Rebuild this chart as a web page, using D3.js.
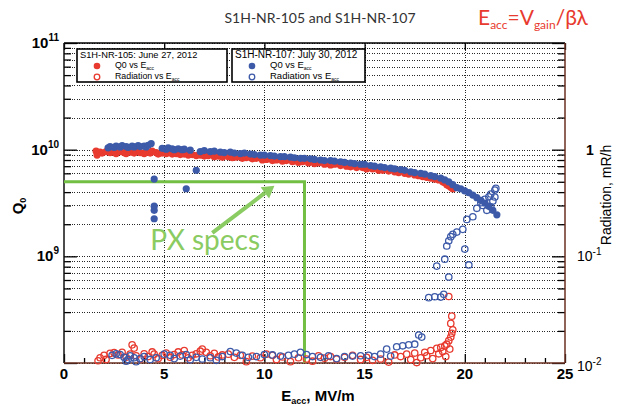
<!DOCTYPE html>
<html><head><meta charset="utf-8">
<script src="https://cdn.jsdelivr.net/npm/d3@7"></script>
<style>
body{margin:0;background:#fff;}
svg{display:block;}
.grid line{stroke:#000;stroke-dasharray:1,1.5;stroke-width:1;shape-rendering:crispEdges;opacity:0.85;}
.grid path{display:none;}
.ax path{display:none;}
.ax line{stroke:#000;stroke-width:1.3;}
</style></head><body>
<svg id="c" width="617" height="406"></svg>
<script>
// ---------- data ----------
// S1H-NR-105 (June 27, 2012): Q0 vs Eacc  [Eacc MV/m, Q0 in units of 1e9]
const q105 = [[1.6,9.7],[1.65,8.9],[1.8,9.5],[1.9,9.3],[2.1,9.6],[2.3,9.4],[2.5,9.5],[2.6,9.2],[2.8,9.6],[3.0,9.4],[3.1,9.2],[3.3,9.5],[3.5,9.3],[3.6,9.6],[3.8,9.4],[4.0,9.2],[4.1,9.5],[4.3,9.3],[4.4,9.7],[4.6,9.4],[4.7,9.1],[4.9,9.3],[5.1,9.2],[5.2,9.4],[5.4,9.1],[5.6,9.2],[5.8,9.0],[6.0,9.1],[6.2,8.9],[6.4,9.0],[6.6,8.8],[6.8,8.9],[7.0,8.7],[7.2,8.8],[7.5,8.6],[7.7,8.7],[7.9,8.5],[8.2,8.6],[8.4,8.4],[8.6,8.5],[8.9,8.3],[9.1,8.4],[9.4,8.2],[9.6,8.3],[9.9,8.0],[10.1,8.1],[10.4,7.9],[10.6,8.0],[10.9,7.8],[11.1,7.9],[11.4,7.7],[11.7,7.6],[11.9,7.7],[12.2,7.5],[12.5,7.4],[12.7,7.5],[13.0,7.3],[13.3,7.2],[13.5,7.3],[13.8,7.1],[14.1,7.0],[14.3,6.9],[14.6,6.8],[14.9,6.8],[15.1,6.6],[15.4,6.6],[15.7,6.4],[15.9,6.4],[16.2,6.3],[16.5,6.2],[16.7,6.1],[17.0,6.0],[17.2,5.9],[17.5,5.8],[17.7,5.7],[17.9,5.6],[18.1,5.5],[18.3,5.4],[18.5,5.3],[18.7,5.2],[18.9,5.0],[19.0,4.9],[19.1,4.7],[19.2,4.6],[19.3,4.45],[19.4,4.3]];
// S1H-NR-105: Radiation vs Eacc [Eacc, mR/h]
const rad105 = [[1.7,0.0105],[1.8,0.0112],[2.0,0.0118],[2.1,0.0108],[2.3,0.0123],[2.5,0.0125],[2.7,0.0119],[2.9,0.0126],[3.1,0.0113],[3.3,0.0121],[3.4,0.0148],[3.5,0.0138],[3.6,0.0117],[3.8,0.0109],[4.0,0.0122],[4.2,0.0115],[4.4,0.0127],[4.5,0.0121],[4.7,0.0110],[4.9,0.0118],[5.1,0.0124],[5.3,0.0113],[5.5,0.0120],[5.7,0.0127],[5.9,0.0119],[6.0,0.0131],[6.2,0.0112],[6.4,0.0118],[6.6,0.0122],[6.8,0.0129],[6.9,0.0135],[7.1,0.0126],[7.3,0.0117],[7.5,0.0123],[7.7,0.0114],[7.9,0.0119],[8.2,0.0121],[8.5,0.0113],[8.8,0.0118],[9.1,0.0103],[9.4,0.0116],[9.8,0.0112],[10.1,0.0121],[10.4,0.0118],[10.6,0.0108],[10.9,0.0114],[11.3,0.0103],[11.7,0.0112],[12.1,0.0109],[12.4,0.0104],[12.7,0.0117],[13.0,0.0111],[13.3,0.0115],[13.6,0.0109],[14.0,0.0113],[14.4,0.0118],[14.8,0.0108],[15.1,0.0113],[15.4,0.0106],[15.8,0.0109],[16.2,0.0102],[16.5,0.0119],[16.8,0.0115],[17.1,0.0121],[17.3,0.0108],[17.5,0.0124],[17.6,0.0101],[17.8,0.0112],[18.0,0.0126],[18.1,0.0117],[18.3,0.0131],[18.4,0.0110],[18.6,0.0137],[18.7,0.0122],[18.8,0.0140],[18.9,0.0128],[19.0,0.0145],[19.05,0.0115],[19.1,0.0150],[19.2,0.0162],[19.25,0.0135],[19.3,0.0175],[19.35,0.0190],[19.4,0.0205],[19.3,0.0235],[19.35,0.0275],[19.2,0.042]];
// S1H-NR-107 (July 30, 2012): Q0 vs Eacc [Eacc, Q0 in units of 1e9]
const q107 = [[2.2,10.4],[2.3,10.7],[2.5,10.5],[2.6,10.8],[2.8,10.6],[2.9,10.9],[3.1,10.7],[3.2,10.5],[3.4,10.8],[3.5,10.6],[3.7,10.9],[3.8,10.7],[4.0,10.8],[4.1,10.6],[4.2,11.0],[4.35,11.4],[4.5,5.3],[4.5,2.95],[4.5,2.7],[4.5,2.25],[4.9,10.3],[5.1,10.1],[5.2,10.4],[5.4,10.2],[5.5,10.0],[5.7,10.2],[5.9,10.0],[6.0,10.1],[6.1,4.3],[6.3,9.9],[6.6,6.4],[6.8,9.6],[7.0,9.8],[7.3,9.6],[7.5,9.7],[7.8,9.5],[8.0,9.4],[8.3,9.5],[8.5,9.3],[8.8,9.2],[9.0,9.3],[9.3,9.1],[9.5,9.0],[9.8,8.9],[10.0,8.9],[10.3,8.8],[10.5,8.7],[10.8,8.6],[11.0,8.6],[11.3,8.5],[11.5,8.4],[11.8,8.3],[12.0,8.3],[12.3,8.2],[12.5,8.1],[12.8,8.0],[13.0,7.9],[13.3,7.9],[13.5,7.8],[13.8,7.7],[14.0,7.6],[14.3,7.5],[14.5,7.4],[14.8,7.3],[15.0,7.3],[15.3,7.1],[15.5,7.0],[15.8,6.9],[16.0,6.8],[16.3,6.7],[16.5,6.6],[16.8,6.5],[17.0,6.4],[17.3,6.2],[17.5,6.1],[17.8,6.0],[18.0,5.9],[18.3,5.7],[18.5,5.6],[18.8,5.4],[19.0,5.2],[19.2,5.0],[19.4,4.7],[19.6,4.4],[19.8,4.3],[20.0,4.1],[20.2,3.95],[20.4,3.75],[20.6,3.55],[20.8,3.35],[21.0,3.15],[21.2,2.95],[21.4,2.7],[21.6,2.45]];
// S1H-NR-107: Radiation vs Eacc [Eacc, mR/h]
const rad107 = [[2.4,0.0118],[2.6,0.0122],[2.8,0.0120],[3.0,0.0113],[3.1,0.0104],[3.2,0.0108],[3.3,0.0117],[3.5,0.0112],[3.6,0.0103],[3.8,0.0110],[4.0,0.0115],[4.3,0.0108],[4.6,0.0112],[5.0,0.0121],[5.3,0.0118],[5.5,0.0110],[5.8,0.0116],[6.1,0.0120],[6.3,0.0107],[6.6,0.0113],[6.9,0.0109],[7.3,0.0112],[7.6,0.0106],[7.9,0.0115],[8.3,0.0128],[8.6,0.0124],[8.9,0.0118],[9.2,0.0113],[9.6,0.0115],[10.0,0.0120],[10.4,0.0119],[10.8,0.0116],[11.2,0.0118],[11.5,0.0121],[11.8,0.0126],[12.1,0.0120],[12.4,0.0115],[12.8,0.0113],[13.2,0.0117],[13.6,0.0110],[14.0,0.0115],[14.4,0.0116],[14.8,0.0117],[15.2,0.0118],[15.5,0.0115],[15.8,0.0121],[16.1,0.0135],[16.3,0.0116],[16.6,0.0142],[16.9,0.0145],[17.2,0.0148],[17.5,0.0150],[17.7,0.0183],[17.85,0.0175],[18.2,0.0410],[18.5,0.0418],[18.8,0.0415],[18.95,0.0440],[18.6,0.081],[19.0,0.094],[19.2,0.064],[19.1,0.125],[19.2,0.14],[19.3,0.153],[19.4,0.161],[19.6,0.169],[19.9,0.179],[20.0,0.117],[20.2,0.083],[20.1,0.222],[20.4,0.235],[20.6,0.282],[20.8,0.318],[21.0,0.342],[21.2,0.362],[21.3,0.384],[21.5,0.418],[21.55,0.434],[20.9,0.30],[21.3,0.29],[21.4,0.33],[21.5,0.36],[21.1,0.27]];
// PX spec corner [Eacc, Q0]
const pxSpec = [12, 5e9];
const xTicks = [0,5,10,15,20,25];
const qMajor = [1e8,1e9,1e10,1e11];
const qLabels = [["11",1e11],["10",1e10],["9",1e9]];
const rLabels = [["",1],["-1",0.1],["-2",0.01]];

// ---------- layout ----------
const L=64,R=565,T=43,B=363;
const svg=d3.select("#c");
const x=d3.scaleLinear().domain([0,25]).range([L,R]);
const yQ=d3.scaleLog().domain([1e8,1e11]).range([B,T]);
const yR=d3.scaleLog().domain([0.01,10]).range([B,T]);
const RED="#e83a2e", BLUE="#3d5aa9", GREEN="#72bf44";
const NUMF="'Liberation Sans',Arial,sans-serif";
const HUM="Lato,'Open Sans',sans-serif";

const minorsQ=[];
for(let e=8;e<11;e++) for(let k=2;k<=9;k++) minorsQ.push(k*Math.pow(10,e));
const minorsR=[];
for(let e=-2;e<1;e++) for(let k=2;k<=9;k++) minorsR.push(k*Math.pow(10,e));
const xMinor=d3.range(0,26,1).filter(v=>v%5!==0);

// grid
svg.append("g").attr("class","grid").attr("transform",`translate(${L},0)`)
  .call(d3.axisLeft(yQ).tickValues(qMajor.concat(minorsQ)).tickSize(-(R-L)).tickFormat(""));
svg.append("g").attr("class","grid").attr("transform",`translate(0,${B})`)
  .call(d3.axisBottom(x).tickValues([5,10,15,20]).tickSize(-(B-T)).tickFormat(""));

// axes ticks
function ax(gen,tr,size){
  return svg.append("g").attr("class","ax").attr("transform",tr).call(gen.tickSize(size).tickFormat(""));
}
ax(d3.axisLeft(yQ).tickValues(qMajor),`translate(${L},0)`,-13);
ax(d3.axisLeft(yQ).tickValues(minorsQ),`translate(${L},0)`,-7);
ax(d3.axisRight(yR).tickValues([0.01,0.1,1,10]),`translate(${R},0)`,-13);
ax(d3.axisRight(yR).tickValues(minorsR),`translate(${R},0)`,-7);
ax(d3.axisBottom(x).tickValues(xTicks),`translate(0,${B})`,-9);
ax(d3.axisBottom(x).tickValues(xMinor),`translate(0,${B})`,-5);
ax(d3.axisTop(x).tickValues(xTicks),`translate(0,${T})`,-7);

// frame
svg.append("line").attr("x1",L).attr("x2",R).attr("y1",T).attr("y2",T).attr("stroke","#000").attr("stroke-width",1.5);
svg.append("line").attr("x1",L).attr("x2",L).attr("y1",T).attr("y2",B).attr("stroke","#111").attr("stroke-width",1.5);
svg.append("line").attr("x1",L).attr("x2",R).attr("y1",B).attr("y2",B).attr("stroke","#6b2f22").attr("stroke-width",1.5);
svg.append("line").attr("x1",R).attr("x2",R).attr("y1",T).attr("y2",B).attr("stroke","#6b2f22").attr("stroke-width",1.5);

// tick labels
const ql=svg.append("g").attr("font-family",NUMF).attr("font-weight","bold").attr("fill","#000");
qLabels.forEach(([p,v])=>{
  const t=ql.append("text").attr("x",L-5).attr("y",yQ(v)+5).attr("text-anchor","end").attr("font-size",15);
  t.append("tspan").text("10");
  t.append("tspan").attr("dy",-7).attr("font-size",10).text(p);
});
const rl=svg.append("g").attr("font-family",NUMF).attr("fill","#000");
rLabels.forEach(([p,v])=>{
  const t=rl.append("text").attr("x",R+12).attr("y",yR(v)+(v===0.01?8:5)).attr("font-size",14);
  if(p===""){ t.attr("x",R+21).attr("font-weight","bold").text("1"); }
  else { t.append("tspan").text("10"); t.append("tspan").attr("dy",-6).attr("font-size",10).text(p); }
});
svg.append("g").attr("font-family",NUMF).attr("font-weight","bold").attr("font-size",15)
  .selectAll("text").data(xTicks).join("text")
  .attr("x",d=>x(d)).attr("y",B+16).attr("text-anchor","middle").text(d=>d);

// axis titles
const xt=svg.append("text").attr("x",318).attr("y",401).attr("text-anchor","middle")
  .attr("font-family",NUMF).attr("font-weight","bold").attr("font-size",15);
xt.append("tspan").text("E");
xt.append("tspan").attr("font-size",9).attr("dy",3).text("acc");
xt.append("tspan").attr("dy",-3).text(", MV/m");
const yt=svg.append("text").attr("transform","translate(23,206) rotate(-90)").attr("text-anchor","middle")
  .attr("font-family",NUMF).attr("font-weight","bold").attr("font-size",15);
yt.append("tspan").text("Q");
yt.append("tspan").attr("font-size",9).attr("dy",3).text("0");
svg.append("text").attr("transform","translate(611,195) rotate(-90)").attr("text-anchor","middle")
  .attr("font-family",NUMF).attr("font-size",14).text("Radiation, mR/h");

// titles
svg.append("text").attr("x",320).attr("y",23).attr("text-anchor","middle")
  .attr("font-family",HUM).attr("font-size",14).attr("fill","#333").text("S1H-NR-105 and S1H-NR-107");
const f=svg.append("text").attr("x",478).attr("y",25).attr("font-family",HUM).attr("font-size",21).attr("fill",RED);
f.append("tspan").text("E");
f.append("tspan").attr("font-size",12).attr("dy",4).text("acc");
f.append("tspan").attr("dy",-4).text("=V");
f.append("tspan").attr("font-size",12).attr("dy",4).text("gain");
f.append("tspan").attr("dy",-4).text("/βλ");

// PX specs
svg.append("path").attr("fill","none").attr("stroke",GREEN).attr("stroke-width",3)
  .attr("d",d3.line()([[x(0),yQ(pxSpec[1])],[x(pxSpec[0]),yQ(pxSpec[1])],[x(pxSpec[0]),yQ(1e8)]]));

// data points
const g=svg.append("g");
g.selectAll(".r1").data(q105).join("circle").attr("cx",d=>x(d[0])).attr("cy",d=>yQ(d[1]*1e9)).attr("r",3.6).attr("fill",RED);
g.selectAll(".r2").data(rad105).join("circle").attr("cx",d=>x(d[0])).attr("cy",d=>yR(d[1])).attr("r",3.2).attr("fill","none").attr("stroke",RED).attr("stroke-width",1.3);
g.selectAll(".b1").data(q107).join("circle").attr("cx",d=>x(d[0])).attr("cy",d=>yQ(d[1]*1e9)).attr("r",3.6).attr("fill",BLUE);
g.selectAll(".b2").data(rad107).join("circle").attr("cx",d=>x(d[0])).attr("cy",d=>yR(d[1])).attr("r",3.2).attr("fill","none").attr("stroke",BLUE).attr("stroke-width",1.3);

// arrow + text
const ax0=x(7.4), ay0=yQ(1.66e9), ax1=x(10.5), ay1=yQ(4.6e9);
const ang=Math.atan2(ay1-ay0,ax1-ax0);
const hl=12, hw=7;
const bx=ax1-hl*Math.cos(ang), by=ay1-hl*Math.sin(ang);
svg.append("line").attr("x1",ax0).attr("y1",ay0).attr("x2",bx).attr("y2",by).attr("stroke","#8acb62").attr("stroke-width",4);
svg.append("polygon").attr("fill","#8acb62").attr("points",[
  [ax1,ay1],[bx+hw*Math.sin(ang),by-hw*Math.cos(ang)],[bx-hw*Math.sin(ang),by+hw*Math.cos(ang)]].map(p=>p.join(",")).join(" "));
svg.append("text").attr("x",x(4.3)).attr("y",250).attr("font-family",HUM).attr("font-size",28).attr("fill","#8acb62").text("PX specs");

// legends
function legend(x0,x1,title,col,fs){
  const y0=49,y1=82;
  const lg=svg.append("g").attr("font-family",NUMF).attr("fill","#000");
  lg.append("rect").attr("x",x0).attr("y",y0).attr("width",x1-x0).attr("height",y1-y0).attr("fill","#fff").attr("stroke","#000").attr("stroke-width",1.6);
  lg.append("text").attr("x",x0+3).attr("y",y0+8.5).attr("font-size",fs).text(title);
  lg.append("circle").attr("cx",x0+20).attr("cy",y0+17).attr("r",3.3).attr("fill",col);
  lg.append("circle").attr("cx",x0+20).attr("cy",y0+28).attr("r",2.8).attr("fill","none").attr("stroke",col).attr("stroke-width",1.3);
  const t1=lg.append("text").attr("x",x0+38).attr("y",y0+19).attr("font-size",fs-0.5);
  t1.append("tspan").text("Q0 vs E"); t1.append("tspan").attr("font-size",5).attr("dy",2).text("acc");
  const t2=lg.append("text").attr("x",x0+38).attr("y",y0+30).attr("font-size",fs-0.5);
  t2.append("tspan").text("Radiation vs E"); t2.append("tspan").attr("font-size",5).attr("dy",2).text("acc");
}
legend(77,227,"S1H-NR-105: June 27, 2012",RED,9.3);
legend(232,365,"S1H-NR-107: July 30, 2012",BLUE,10);
</script>
</body></html>
